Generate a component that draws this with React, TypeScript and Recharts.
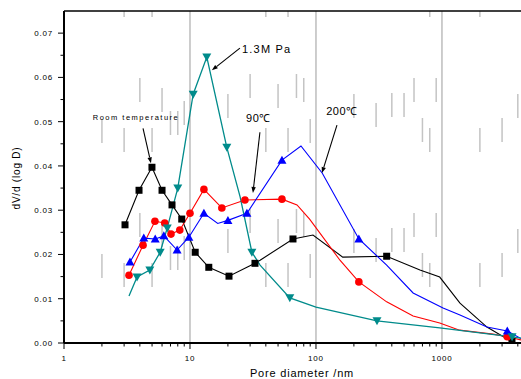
import { LineChart, Line, XAxis, YAxis, ReferenceLine, ReferenceDot } from "recharts";

const FONT = "Arial, 'Liberation Sans', sans-serif";

// [pore diameter (nm), dV/d(logD), marker shown]
const roomTemp: [number, number, number][] = [
  [3.05, 0.0267, 1], [3.94, 0.0345, 1], [4.99, 0.0397, 1], [6.0, 0.0345, 1],
  [7.2, 0.0312, 1], [8.6, 0.028, 1], [11, 0.0205, 1], [14.1, 0.0171, 1],
  [20.4, 0.0151, 1], [32.8, 0.018, 1], [36, 0.0187, 0], [65.7, 0.0235, 1],
  [94.7, 0.0244, 0], [163, 0.0194, 0], [364, 0.0196, 1], [669, 0.0165, 0],
  [960, 0.0149, 0], [1390, 0.009, 0], [2275, 0.0036, 0], [3595, 0.0003, 1],
];

const deg90: [number, number, number][] = [
  [3.28, 0.0153, 1], [4.24, 0.0221, 1], [5.27, 0.0275, 1], [6.3, 0.0271, 1],
  [7.07, 0.0246, 1], [8.3, 0.0255, 1], [10, 0.0293, 1], [12.9, 0.0347, 1],
  [17.9, 0.0305, 1], [27.3, 0.0323, 1], [53.7, 0.0325, 1], [70.7, 0.0312, 0],
  [89, 0.028, 0], [155, 0.0187, 0], [219, 0.0138, 1], [364, 0.0093, 0],
  [590, 0.0061, 0], [960, 0.0045, 0], [1380, 0.0029, 0], [2540, 0.002, 0],
  [3300, 0.0014, 1], [4240, 0.0007, 0],
];

const deg200: [number, number, number][] = [
  [3.34, 0.0183, 1], [4.3, 0.0237, 1], [5.3, 0.0235, 1], [6.2, 0.0242, 1],
  [7.9, 0.021, 1], [9.8, 0.0239, 1], [12.9, 0.0293, 1], [16.6, 0.027, 0],
  [20, 0.0277, 1], [28.3, 0.0293, 1], [53.7, 0.0413, 1], [76, 0.0445, 0],
  [112, 0.0384, 0], [219, 0.0235, 1], [364, 0.0176, 0], [590, 0.0113, 0],
  [1020, 0.0079, 0], [1390, 0.0063, 0], [2275, 0.0036, 0], [3300, 0.0027, 1],
  [4240, 0.001, 0],
];

const mpa13: [number, number, number][] = [
  [3.28, 0.0106, 0], [3.8, 0.0149, 1], [4.8, 0.0165, 1], [5.8, 0.0205, 1],
  [6.6, 0.026, 1], [8.0, 0.035, 1], [10.6, 0.0562, 1], [13.6, 0.0646, 1],
  [19.6, 0.0442, 1], [25, 0.033, 0], [31, 0.0205, 1], [36, 0.0176, 0],
  [62, 0.0102, 1], [100, 0.0081, 0], [305, 0.005, 1], [960, 0.0034, 0],
  [3600, 0.0014, 1], [4240, 0.0011, 0],
];

const xMajorTicks = [1, 10, 100, 1000];
const xMinorTicks = [
  2, 3, 4, 5, 6, 7, 8, 9, 20, 30, 40, 50, 60, 70, 80, 90,
  200, 300, 400, 500, 600, 700, 800, 900, 2000, 3000, 4000,
];
const yTicks = [
  0, 0.005, 0.01, 0.015, 0.02, 0.025, 0.03, 0.035, 0.04, 0.045, 0.05, 0.055,
  0.06, 0.065, 0.07,
];
const yMajorTicks = [0, 0.01, 0.02, 0.03, 0.04, 0.05, 0.06, 0.07];
// where the first dash of each minor grid line starts, px above the x axis
const minorDashStart = [
  65, 56, 106, 56, 96, 73, 73, 83, 90, 110, 56, 100, 56, 110, 106, 65,
  90, 81, 91, 91, 106, 66, 56, 106, 56, 66, 90,
];

const rows = (pts: [number, number, number][]) => pts.map(([x, y, m]) => ({ x, y, m }));

type DotProps = { cx?: number; cy?: number; payload?: { m: number }; index?: number };

const squareDot = (p: DotProps) =>
  p.payload?.m ? (
    <rect key={p.index} x={p.cx! - 3.5} y={p.cy! - 3.5} width={7} height={7} fill="#000" />
  ) : (
    <g key={p.index} />
  );

const circleDot = (p: DotProps) =>
  p.payload?.m ? <circle key={p.index} cx={p.cx} cy={p.cy} r={3.8} fill="#ff0000" /> : <g key={p.index} />;

const upDot = (p: DotProps) =>
  p.payload?.m ? (
    <polygon
      key={p.index}
      points={`${p.cx},${p.cy! - 4.5} ${p.cx! - 4.5},${p.cy! + 3.5} ${p.cx! + 4.5},${p.cy! + 3.5}`}
      fill="#0000ff"
    />
  ) : (
    <g key={p.index} />
  );

const downDot = (p: DotProps) =>
  p.payload?.m ? (
    <polygon
      key={p.index}
      points={`${p.cx! - 4.5},${p.cy! - 3.5} ${p.cx! + 4.5},${p.cy! - 3.5} ${p.cx},${p.cy! + 4.5}`}
      fill="#008b8b"
    />
  ) : (
    <g key={p.index} />
  );

function XTick({ x, y, payload }: any) {
  const major = xMajorTicks.includes(payload.value);
  return (
    <g>
      <line x1={x} x2={x} y1={y} y2={y + (major ? 6 : 3.5)} stroke="#000" strokeWidth={1} />
      {major && (
        <text x={x} y={y + 18} textAnchor="middle" fontSize={8} fontFamily={FONT} letterSpacing={0.8} fill="#000">
          {payload.value}
        </text>
      )}
    </g>
  );
}

function YTick({ x, y, payload }: any) {
  const major = yMajorTicks.includes(payload.value);
  return (
    <g>
      <line x1={x - (major ? 6 : 3.5)} x2={x} y1={y} y2={y} stroke="#000" strokeWidth={1} />
      {major && (
        <text x={x - 11} y={y + 3} textAnchor="end" fontSize={8} fontFamily={FONT} letterSpacing={0.8} fill="#000">
          {payload.value.toFixed(2)}
        </text>
      )}
    </g>
  );
}

function Arrow(p: any) {
  const { x1, y1, x2, y2 } = p;
  const a = Math.atan2(y2 - y1, x2 - x1);
  const len = 6;
  const w = 2.2;
  const bx = x2 - len * Math.cos(a);
  const by = y2 - len * Math.sin(a);
  const nx = -Math.sin(a) * w;
  const ny = Math.cos(a) * w;
  return (
    <g>
      <line x1={x1} y1={y1} x2={bx} y2={by} stroke="#000" strokeWidth={1.1} />
      <polygon points={`${x2},${y2} ${bx + nx},${by + ny} ${bx - nx},${by - ny}`} fill="#000" />
    </g>
  );
}

function makeLabel(text: string, size: number, spacing: number, anchor: "start" | "middle") {
  return (p: any) => (
    <text
      x={p.cx}
      y={p.cy}
      dominantBaseline="central"
      textAnchor={anchor}
      fontSize={size}
      letterSpacing={spacing}
      fontFamily={FONT}
      fill="#000"
    >
      {text}
    </text>
  );
}

export default function App() {
  return (
    <div style={{ position: "absolute", left: 0, top: 0, width: 521, height: 379, background: "#fff" }}>
      <LineChart width={521} height={379} margin={{ top: 11, right: 0, bottom: 0, left: 8 }}>
        <XAxis
          type="number"
          dataKey="x"
          scale="log"
          domain={[1, 4240]}
          allowDataOverflow
          ticks={[...xMajorTicks, ...xMinorTicks].sort((a, b) => a - b)}
          interval={0}
          height={36}
          tickSize={0}
          tickMargin={0}
          tickLine={false}
          tick={<XTick />}
          axisLine={{ stroke: "#000", strokeWidth: 2 }}
        />
        <YAxis
          type="number"
          domain={[0, 0.075]}
          allowDataOverflow
          ticks={yTicks}
          interval={0}
          width={56}
          tickSize={0}
          tickMargin={0}
          tickLine={false}
          tick={<YTick />}
          axisLine={{ stroke: "#000", strokeWidth: 2 }}
        />

        {xMinorTicks.map((v, i) => (
          <ReferenceLine
            key={`m${v}`}
            segment={[{ x: v, y: 0 }, { x: v, y: 0.075 }]}
            stroke="#c4c4c4"
            strokeWidth={1.5}
            strokeDasharray="24 111"
            strokeDashoffset={135 - minorDashStart[i]}
          />
        ))}
        {[10, 100, 1000].map((v) => (
          <ReferenceLine key={`g${v}`} x={v} stroke="#bdbdbd" strokeWidth={1.5} />
        ))}
        <ReferenceLine y={0.075} stroke="#000" strokeWidth={1.5} />

        <Line data={rows(roomTemp)} dataKey="y" stroke="#000" strokeWidth={1.1} dot={squareDot} activeDot={false} isAnimationActive={false} />
        <Line data={rows(deg90)} dataKey="y" stroke="#ff0000" strokeWidth={1.1} dot={circleDot} activeDot={false} isAnimationActive={false} />
        <Line data={rows(deg200)} dataKey="y" stroke="#0000ff" strokeWidth={1.1} dot={upDot} activeDot={false} isAnimationActive={false} />
        <Line data={rows(mpa13)} dataKey="y" stroke="#008b8b" strokeWidth={1.3} dot={downDot} activeDot={false} isAnimationActive={false} />

        <ReferenceLine segment={[{ x: 4.24, y: 0.0485 }, { x: 4.9, y: 0.0406 }]} shape={Arrow} />
        <ReferenceLine segment={[{ x: 24.9, y: 0.0666 }, { x: 14.9, y: 0.0616 }]} shape={Arrow} />
        <ReferenceLine segment={[{ x: 35.9, y: 0.0476 }, { x: 31.6, y: 0.0339 }]} shape={Arrow} />
        <ReferenceLine segment={[{ x: 146.8, y: 0.0492 }, { x: 111.6, y: 0.0384 }]} shape={Arrow} />

        <ReferenceDot x={3.73} y={0.051} r={0} shape={makeLabel("Room temperature", 7.5, 1.5, "middle")} />
        <ReferenceDot x={25.9} y={0.0664} r={0} shape={makeLabel("1.3M Pa", 11, 1.2, "start")} />
        <ReferenceDot x={35} y={0.0508} r={0} shape={makeLabel("90℃", 11, 0.6, "middle")} />
        <ReferenceDot x={161} y={0.0524} r={0} shape={makeLabel("200℃", 11, 0.6, "middle")} />
      </LineChart>
      <div
        style={{
          position: "absolute",
          left: 302,
          top: 373,
          transform: "translate(-50%, -50%)",
          fontFamily: FONT,
          fontSize: 11,
          letterSpacing: 0.8,
          whiteSpace: "nowrap",
        }}
      >
        Pore diameter /nm
      </div>
      <div
        style={{
          position: "absolute",
          left: 16,
          top: 178,
          transform: "translate(-50%, -50%) rotate(-90deg)",
          fontFamily: FONT,
          fontSize: 10,
          letterSpacing: 0.8,
          whiteSpace: "nowrap",
        }}
      >
        dV/d (log D)
      </div>
    </div>
  );
}
